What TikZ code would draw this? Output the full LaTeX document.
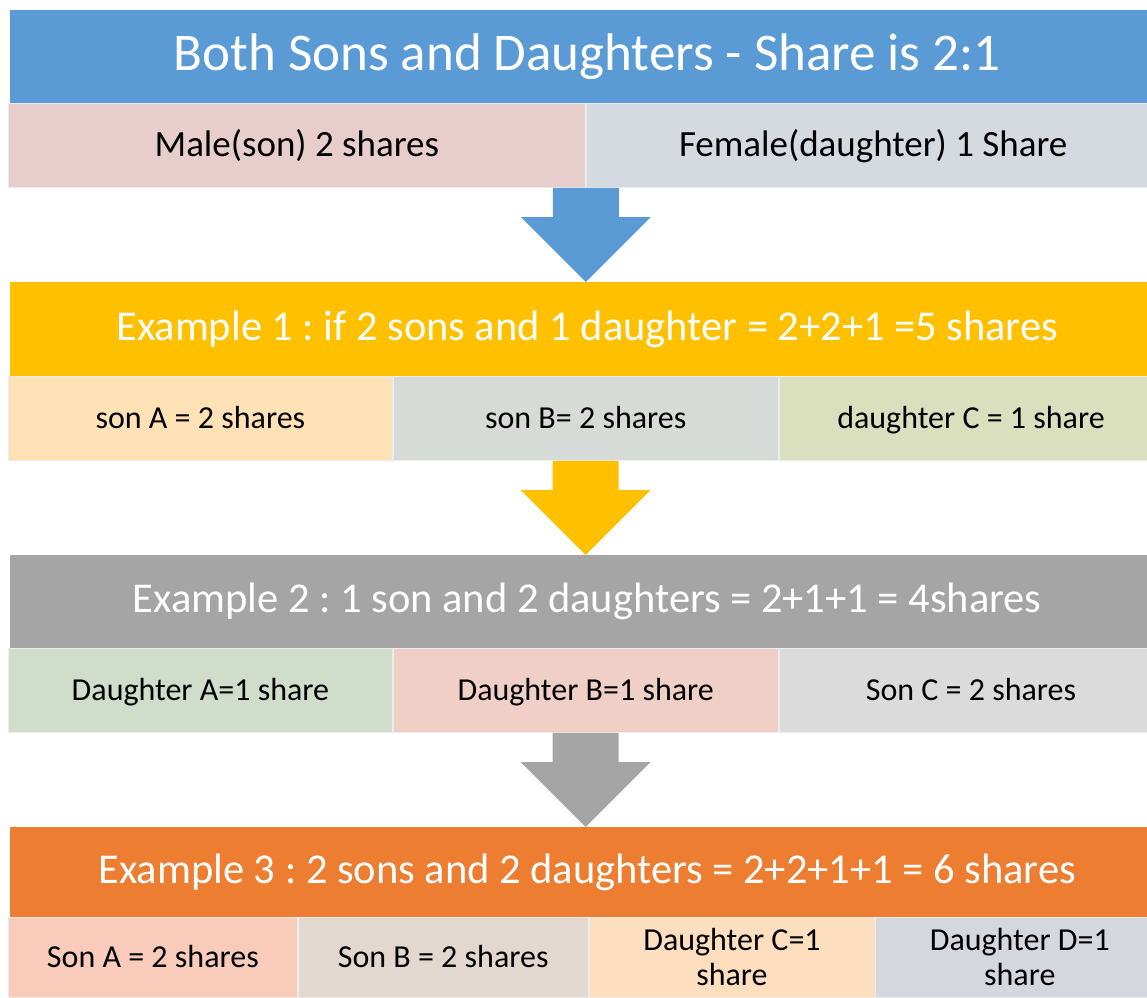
\documentclass[tikz,border=0pt]{standalone}
\usepackage{fontspec}
\setmainfont{Carlito}
\usepackage{tikz}
\usetikzlibrary{positioning, calc}
\frenchspacing

\definecolor{hdblue}{HTML}{5B9BD5}
\definecolor{hdyellow}{HTML}{FFC000}
\definecolor{hdgray}{HTML}{A5A5A5}
\definecolor{hdorange}{HTML}{ED7D31}

\tikzstyle{headbar} = [rectangle, anchor=north west, inner sep=0, minimum width=1154pt, text=white, font=\fontsize{42.5}{50}\selectfont]
\tikzstyle{cell} = [rectangle, inner sep=0, minimum height=84pt, draw=white!85!gray, line width=0.8pt, text=black, align=center, text height=26pt, text depth=6pt, font=\fontsize{32}{38}\selectfont]
\tikzstyle{bigcell} = [text height=30pt, text depth=7pt, font=\fontsize{37}{42}\selectfont]
\tikzstyle{twoline} = [text height={}, text depth={}, font=\fontsize{32}{35}\selectfont]

% block arrow from a row down to the next bar
\newcommand{\blockarrow}[3]{
  \fill[#3] let \p1=(#1), \p2=(#2) in
    (\x1-33pt,\y1) -- (\x1+33pt,\y1) -- (\x1+33pt,\y2+65pt) -- (\x1+65pt,\y2+65pt)
    -- (\x1,\y2) -- (\x1-65pt,\y2+65pt) -- (\x1-33pt,\y2+65pt) -- cycle;
}

\begin{document}
\begin{tikzpicture}[x=1pt, y=-1pt, node distance=0pt]
      \useasboundingbox (0,0) rectangle (1147,997);

      \node (title) [headbar, fill=hdblue, minimum height=93pt, font=\fontsize{53}{60}\selectfont] at (10,10) {Both Sons and Daughters - Share is 2:1};
      \node (male) [cell, bigcell, anchor=north west, fill={rgb,255:red,231;green,206;blue,205}, minimum width=577pt] at (8,103) {Male(son) 2 shares};
      \node (female) [cell, bigcell, right=of male, fill={rgb,255:red,213;green,218;blue,225}, minimum width=574pt] {Female(daughter) 1 Share};

      \node (ex1) [headbar, fill=hdyellow, minimum height=94pt] at (10,282) {Example 1 : if 2 sons and 1 daughter = 2+2+1 =5 shares};
      \node (sonA) [cell, anchor=north west, fill={rgb,255:red,254;green,225;blue,181}, minimum width=384pt] at (8,376) {son A = 2 shares};
      \node (sonB) [cell, right=of sonA, fill={rgb,255:red,214;green,219;blue,216}, minimum width=385pt] {son B= 2 shares};
      \node (dauC) [cell, right=of sonB, fill={rgb,255:red,218;green,224;blue,190}, minimum width=384pt] {daughter C = 1 share};

      \node (ex2) [headbar, fill=hdgray, minimum height=93pt] at (10,555) {Example 2 : 1 son and 2 daughters = 2+1+1 = 4shares};
      \node (dauA2) [cell, anchor=north west, fill={rgb,255:red,208;green,221;blue,203}, minimum width=384pt] at (8,648) {Daughter A=1 share};
      \node (dauB2) [cell, right=of dauA2, fill={rgb,255:red,240;green,208;blue,198}, minimum width=385pt] {Daughter B=1 share};
      \node (sonC2) [cell, right=of dauB2, fill={rgb,255:red,219;green,219;blue,219}, minimum width=384pt] {Son C = 2 shares};

      \node (ex3) [headbar, fill=hdorange, minimum height=90pt] at (10,827) {Example 3 : 2 sons and 2 daughters = 2+2+1+1 = 6 shares};
      \node (sonA3) [cell, anchor=north west, fill={rgb,255:red,248;green,203;blue,187}, minimum width=289pt, minimum height=80pt] at (8,917) {Son A = 2 shares};
      \node (sonB3) [cell, right=of sonA3, fill={rgb,255:red,227;green,216;blue,208}, minimum width=290pt, minimum height=80pt] {Son B = 2 shares};
      \node (dauC3) [cell, twoline, right=of sonB3, fill={rgb,255:red,253;green,222;blue,190}, minimum width=286pt, minimum height=80pt] {Daughter C=1\\share};
      \node (dauD3) [cell, twoline, right=of dauC3, fill={rgb,255:red,213;green,215;blue,222}, minimum width=288pt, minimum height=80pt] {Daughter D=1\\share};

      \blockarrow{male.south east}{ex1.north}{hdblue}
      \blockarrow{sonB.south}{ex2.north}{hdyellow}
      \blockarrow{dauB2.south}{ex3.north}{hdgray}
\end{tikzpicture}
\end{document}
